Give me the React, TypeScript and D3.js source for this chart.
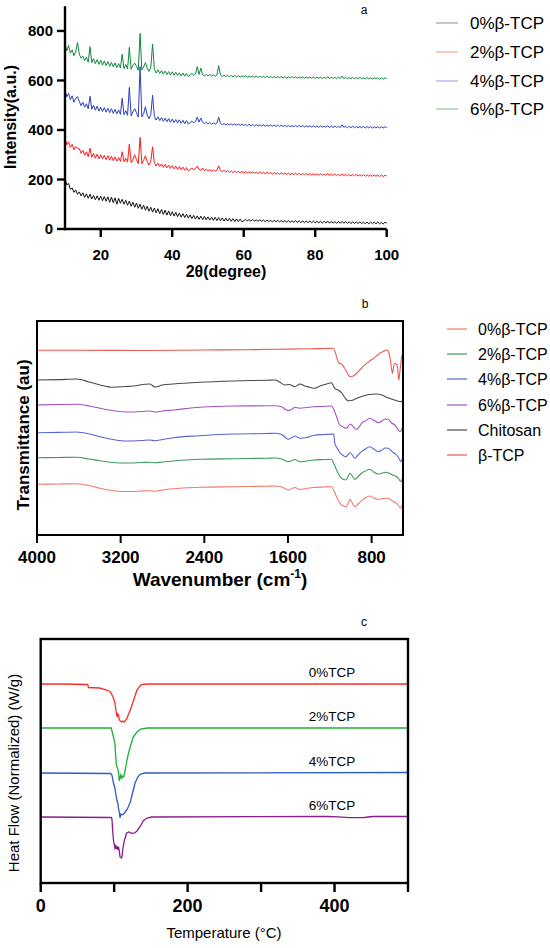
import * as d3 from "d3";

// ---------- panel a : XRD (2θ from 10 to 100, 0.5° step) ----------
const xrdStart = 10;
const xrdStep = 0.5;

const xrd0 = [
  205, 178, 184, 160, 166, 148, 158, 140, 150, 134,
  146, 128, 142, 124, 140, 121, 136, 118, 134, 116,
  133, 114, 131, 112, 130, 108, 129, 106, 126, 100,
  124, 104, 120, 100, 116, 96, 113, 92, 108, 88,
  105, 84, 100, 80, 96, 76, 92, 72, 88, 68,
  85, 65, 82, 62, 79, 59, 76, 56, 73, 54,
  70, 52, 67, 50, 64, 48, 62, 46, 60, 44,
  57, 42, 55, 40, 53, 39, 52, 38, 51, 37,
  49, 36, 48, 35, 47, 34, 46, 33, 45, 32,
  44, 32, 43, 31, 42, 30, 41, 30, 40, 29,
  33, 39, 33, 38, 32, 38, 32, 37, 31, 37,
  31, 36, 30, 36, 30, 35, 29, 35, 29, 35,
  29, 34, 28, 34, 28, 34, 27, 33, 27, 33,
  27, 33, 26, 32, 26, 32, 26, 32, 25, 32,
  25, 31, 25, 31, 24, 31, 24, 32, 24, 30,
  24, 30, 23, 30, 23, 31, 23, 30, 23, 29,
  22, 29, 22, 29, 22, 29, 22, 28, 21, 28,
  21, 28, 21, 28, 21, 28, 21, 27, 20, 27,
  24,
];
const xrd2 = [
  368, 340, 352, 330, 342, 320, 334, 326, 324, 306,
  318, 298, 312, 292, 326, 290, 305, 286, 302, 284,
  300, 283, 298, 280, 296, 278, 294, 276, 291, 274,
  289, 273, 312, 272, 286, 270, 343, 268, 282, 300,
  280, 264, 370, 264, 278, 296, 272, 258, 274, 332,
  268, 254, 266, 252, 263, 249, 261, 247, 258, 245,
  256, 243, 254, 241, 252, 239, 250, 237, 248, 235,
  240, 246, 239, 244, 254, 241, 237, 246, 236, 241,
  235, 240, 234, 239, 233, 238, 255, 236, 232, 237,
  230, 236, 229, 235, 228, 234, 228, 233, 227, 233,
  226, 232, 226, 231, 225, 231, 225, 230, 224, 230,
  224, 229, 223, 229, 223, 228, 222, 228, 222, 227,
  221, 227, 221, 226, 220, 226, 220, 225, 220, 225,
  219, 225, 219, 224, 219, 224, 218, 224, 218, 223,
  218, 223, 217, 223, 217, 222, 217, 224, 216, 222,
  216, 222, 216, 221, 215, 223, 215, 221, 215, 220,
  214, 220, 215, 220, 214, 219, 214, 220, 213, 219,
  213, 219, 213, 218, 213, 218, 212, 218, 212, 217,
  214,
];
const xrd4 = [
  562, 534, 548, 522, 538, 512, 528, 534, 516, 498,
  512, 492, 506, 486, 536, 484, 500, 480, 496, 476,
  492, 475, 490, 472, 488, 470, 486, 467, 483, 465,
  481, 463, 528, 462, 478, 459, 572, 457, 474, 486,
  470, 452, 656, 453, 466, 494, 460, 446, 462, 540,
  455, 440, 453, 438, 450, 435, 448, 433, 446, 431,
  444, 430, 442, 428, 441, 427, 439, 425, 438, 424,
  430, 436, 429, 434, 452, 432, 448, 431, 426, 431,
  424, 430, 423, 429, 423, 428, 452, 427, 421, 426,
  420, 426, 420, 425, 419, 425, 419, 424, 418, 424,
  418, 423, 417, 423, 417, 422, 416, 422, 416, 421,
  416, 421, 415, 421, 415, 420, 415, 420, 414, 420,
  414, 419, 414, 419, 413, 419, 413, 418, 413, 418,
  413, 418, 412, 418, 412, 417, 412, 417, 412, 417,
  411, 417, 411, 416, 411, 416, 411, 417, 410, 416,
  410, 416, 410, 415, 410, 421, 410, 415, 409, 415,
  409, 415, 409, 414, 409, 414, 409, 414, 408, 414,
  408, 414, 408, 413, 408, 413, 408, 413, 408, 413,
  410,
];
const xrd6 = [
  748, 720, 742, 710, 724, 700, 716, 753, 706, 690,
  698, 680, 694, 674, 737, 672, 688, 668, 685, 665,
  682, 662, 679, 660, 676, 657, 673, 655, 671, 652,
  668, 650, 706, 648, 664, 646, 734, 645, 661, 670,
  658, 641, 790, 642, 655, 672, 650, 636, 651, 747,
  645, 630, 643, 628, 640, 626, 638, 624, 636, 622,
  635, 621, 633, 620, 631, 618, 630, 617, 628, 616,
  622, 628, 621, 626, 656, 624, 650, 623, 619, 624,
  618, 624, 618, 623, 617, 622, 660, 622, 616, 621,
  616, 621, 615, 620, 615, 620, 614, 619, 614, 619,
  614, 619, 613, 618, 613, 618, 613, 618, 612, 617,
  612, 617, 612, 617, 612, 616, 611, 616, 611, 616,
  611, 616, 610, 615, 610, 615, 610, 616, 610, 615,
  609, 615, 610, 614, 609, 614, 609, 614, 609, 614,
  608, 614, 609, 613, 608, 613, 608, 615, 608, 613,
  608, 613, 607, 614, 608, 618, 607, 613, 607, 612,
  607, 612, 607, 612, 606, 612, 607, 611, 606, 612,
  606, 611, 606, 611, 606, 611, 605, 611, 605, 610,
  608,
];
const xrdNames = ["0%β-TCP", "2%β-TCP", "4%β-TCP", "6%β-TCP"];
const xrdColors = ["#111111", "#ff1a1a", "#2a3fbf", "#11883c"];
const xrdLegendColors = ["#a0a0a0", "#f5a58c", "#a7aee3", "#8ec79d"];
const xrdXTicks = [20, 40, 60, 80, 100];
const xrdYTicks = [0, 200, 400, 600, 800];

// ---------- panel b : FTIR ([wavenumber, transmittance]) ----------
const ftirTcp = [
  [4000, 184.7], [3600, 184.8], [3000, 184.5], [2400, 185], [2000, 185.3], [1725, 185.7],
  [1400, 186.2], [1250, 186.5], [1168, 186.7], [1140, 180], [1120, 173], [1110, 171.7],
  [1088, 171], [1060, 167], [1040, 163.3], [1015, 159], [1001, 158.3], [976, 159],
  [950, 161], [929, 163.3], [890, 167.5], [849, 171.7], [790, 176], [722, 181.7],
  [680, 184], [652, 185], [638, 183], [626, 178.3], [612, 168], [600, 161.7], [590, 168],
  [578, 171.7], [566, 171], [556, 170], [547, 162], [540, 155], [530, 163], [521, 171.7],
  [510, 180], [500, 176],
];
const ftirChitosan = [
  [4000, 155], [3800, 155.4], [3620, 156], [3500, 153], [3398, 150], [3270, 147.7],
  [3150, 148.5], [3080, 149], [2968, 150.7], [2920, 151], [2872, 148], [2800, 150],
  [2697, 151], [2442, 152.7], [2124, 154], [1800, 154.8], [1725, 155], [1680, 153],
  [1630, 150], [1590, 150.5], [1534, 148.3], [1486, 151], [1440, 149], [1391, 147.7],
  [1343, 146.7], [1295, 149], [1230, 151], [1183, 152.3], [1170, 150], [1152, 146.7],
  [1120, 145], [1088, 142.3], [1060, 138], [1025, 134.3], [995, 134.5], [961, 135.7],
  [920, 137.5], [881, 139], [820, 140.5], [753, 141], [700, 140], [657, 137.7],
  [610, 136], [562, 134.3], [530, 133.5], [514, 133.3], [505, 134.5], [500, 133],
];
const ftir6 = [
  [4000, 130], [3800, 130.5], [3620, 130.7], [3500, 129], [3398, 126.7], [3250, 124],
  [3150, 123], [3000, 123.5], [2920, 124], [2872, 123], [2800, 124], [2697, 125],
  [2442, 127.7], [2124, 129], [1800, 129.2], [1725, 129.3], [1661, 128.3], [1630, 126],
  [1598, 124.3], [1560, 126], [1534, 127.7], [1486, 126.7], [1420, 127.5], [1359, 128.3],
  [1280, 128.5], [1183, 129], [1160, 125], [1135, 118.3], [1104, 110], [1070, 108],
  [1040, 106.7], [1025, 108.5], [1008, 111], [990, 110], [976, 108.3], [944, 105.7],
  [920, 108], [896, 111.7], [860, 114], [817, 116.7], [790, 115.5], [760, 113.5],
  [737, 112.3], [700, 114], [670, 116], [642, 115.7], [610, 112], [578, 110], [550, 106],
  [530, 103.3], [515, 104.5], [505, 108], [500, 104],
];
const ftir4 = [
  [4000, 102.3], [3800, 102.6], [3620, 103], [3500, 101], [3398, 98.3], [3250, 95],
  [3150, 94], [3000, 94.5], [2920, 95], [2872, 94.3], [2800, 95.5], [2697, 97.3],
  [2442, 99.3], [2124, 101], [1800, 101.5], [1725, 101.7], [1661, 100.5], [1630, 98],
  [1598, 95.7], [1560, 97.5], [1534, 99], [1486, 96.7], [1420, 97.5], [1359, 99.5],
  [1250, 100.5], [1162, 101], [1152, 91.7], [1130, 87], [1110, 83.3], [1080, 80],
  [1046, 78.3], [1025, 80.5], [1008, 82.3], [985, 80], [961, 76.7], [930, 80],
  [896, 83.3], [860, 86], [817, 88.3], [780, 86], [737, 83.3], [700, 85], [670, 87],
  [642, 86.7], [600, 83], [562, 80], [540, 77], [521, 73.3], [508, 76], [500, 73],
];
const ftir2 = [
  [4000, 77.3], [3800, 77.5], [3620, 77.7], [3500, 76], [3398, 74.3], [3250, 72.3],
  [3150, 72], [3000, 72.5], [2920, 72.8], [2872, 72.2], [2800, 73], [2697, 74],
  [2442, 75.7], [2124, 76.3], [1800, 76.8], [1725, 77], [1661, 76], [1630, 74.5],
  [1598, 73.3], [1560, 74.5], [1534, 75.5], [1486, 73.3], [1420, 74], [1359, 75],
  [1250, 75.5], [1183, 75.7], [1160, 71], [1135, 65], [1110, 60], [1088, 56.7],
  [1046, 55], [1025, 58.5], [1008, 61.7], [985, 59], [961, 55.7], [930, 58.5],
  [896, 61.7], [860, 64], [817, 65.7], [780, 63], [737, 61], [700, 62], [670, 62.8],
  [642, 62.3], [600, 60], [562, 58.3], [540, 56], [521, 53.3], [508, 56], [500, 52],
];
const ftir0 = [
  [4000, 50.7], [3800, 51], [3620, 51.3], [3500, 49.5], [3398, 46.7], [3250, 44],
  [3150, 43.5], [3000, 44], [2920, 44.3], [2872, 43.8], [2800, 45], [2697, 46.3],
  [2442, 47.7], [2124, 48.3], [1800, 48.8], [1725, 49], [1661, 48], [1630, 46.5],
  [1598, 45], [1560, 46.5], [1534, 47.5], [1486, 45.7], [1420, 46.5], [1359, 47.5],
  [1250, 48], [1183, 48.3], [1160, 44], [1135, 38.3], [1110, 33], [1088, 30],
  [1046, 28.3], [1025, 31.5], [1008, 35.7], [985, 32], [961, 28.3], [930, 31],
  [896, 34.3], [860, 37], [817, 39], [780, 37], [737, 35.7], [700, 36.3], [670, 36.8],
  [642, 36.7], [600, 34], [562, 31.7], [540, 29], [521, 26.7], [508, 30], [500, 25],
];
const ftirNames = ["0%β-TCP", "2%β-TCP", "4%β-TCP", "6%β-TCP", "Chitosan", "β-TCP"];
const ftirColors = ["#f7776b", "#3f9a5e", "#5566d2", "#a552c4", "#4a4a4a", "#ec5a52"];
const ftirXTicks = [4000, 3200, 2400, 1600, 800];

// ---------- panel c : DSC ([temperature, heat flow]) ----------
const dsc0 = [
  [0, 199], [30, 199], [64, 198.5], [65, 195.5], [80, 195], [90, 193], [95, 191],
  [99, 185], [101, 180], [103, 170], [104, 166], [105, 169], [106, 168], [107, 163],
  [110, 161], [112, 162], [114, 161], [117, 164], [122, 173], [127, 184], [131, 193],
  [135, 197], [138, 198.5], [145, 199], [300, 199], [500, 199],
];
const dsc2 = [
  [0, 155], [96, 155], [97, 152], [99, 146], [101, 140], [102, 128], [103, 118],
  [104, 116], [105, 114], [106, 110], [107, 102], [108, 106], [109, 108], [110, 104],
  [111, 107], [113, 106], [115, 113], [118, 125], [121, 134], [126, 146], [131, 151],
  [136, 154], [145, 155], [500, 155],
];
const dsc4 = [
  [0, 110], [95, 109.5], [97, 108], [99, 100], [101, 95], [102, 90], [104, 82],
  [105, 80], [106, 74], [107, 71], [108, 65], [109, 69], [111, 68], [114, 70],
  [118, 74], [122, 81], [125, 90], [128.5, 100], [132, 106], [136, 109], [142, 110],
  [500, 110.5],
];
const dsc6 = [
  [0, 66], [96, 65.5], [97, 64], [98, 52], [99, 43], [101, 35], [102, 37], [103, 34],
  [104, 37], [105, 33], [106, 36], [107, 32], [108, 26], [110, 25], [111, 28],
  [112, 35], [114, 43], [117, 50], [120, 51], [124, 49.7], [128, 50], [131, 52],
  [135, 56], [140, 62.6], [145, 65], [151, 66], [390, 66.5], [405, 66.1], [420, 65.3],
  [440, 65.5], [452, 66.5], [500, 66.5],
];
const dscNames = ["0%TCP", "2%TCP", "4%TCP", "6%TCP"];
const dscColors = ["#ff2b2b", "#1fae35", "#2d5cc4", "#8a1d8e"];
const dscXTicks = [0, 100, 200, 300, 400, 500];
const dscXLabels = [0, 200, 400];

const FONT = "'Liberation Sans', Arial, sans-serif";

function XrdPanel() {
  const x = d3.scaleLinear().domain([10, 100]).range([65, 386.7]);
  const y = d3.scaleLinear().domain([0, 900]).range([229, 6.2]);
  const line = d3
    .line<number>()
    .x((_, i) => x(xrdStart + i * xrdStep))
    .y((d) => y(d));
  const series = [xrd0, xrd2, xrd4, xrd6];
  const legendY = [23, 52, 81, 109];
  return (
    <g fontFamily={FONT}>
      {series.map((s, k) => (
        <path key={k} d={line(s) || ""} fill="none" stroke={xrdColors[k]} strokeWidth={1} />
      ))}
      <line x1={x(10)} x2={x(10)} y1={y(900)} y2={y(0) + 1.2} stroke="#000" strokeWidth={2.4} />
      <line x1={x(10) - 1.2} x2={x(100)} y1={y(0)} y2={y(0)} stroke="#000" strokeWidth={2.4} />
      {xrdYTicks.map((t) => (
        <g key={t}>
          <line x1={x(10) - 8} x2={x(10)} y1={y(t)} y2={y(t)} stroke="#000" strokeWidth={2.4} />
          <text x={x(10) - 12} y={y(t)} dy="0.36em" textAnchor="end" fontSize={15} fontWeight="bold">
            {t}
          </text>
        </g>
      ))}
      {xrdXTicks.map((t) => (
        <g key={t}>
          <line x1={x(t)} x2={x(t)} y1={y(0)} y2={y(0) + 8} stroke="#000" strokeWidth={2.4} />
          <text x={x(t)} y={260} textAnchor="middle" fontSize={15} fontWeight="bold">
            {t}
          </text>
        </g>
      ))}
      <text x={226} y={277} textAnchor="middle" fontSize={16} fontWeight="bold">
        2θ(degree)
      </text>
      <text
        transform="translate(16,117) rotate(-90)"
        textAnchor="middle"
        fontSize={16}
        fontWeight="bold"
      >
        Intensity(a.u.)
      </text>
      <text x={364} y={14} textAnchor="middle" fontSize={12}>
        a
      </text>
      {xrdNames.map((n, k) => (
        <g key={n}>
          <line x1={436} x2={458} y1={legendY[k]} y2={legendY[k]} stroke={xrdLegendColors[k]} strokeWidth={1.2} />
          <text x={470} y={legendY[k]} dy="0.36em" fontSize={17}>
            {n}
          </text>
        </g>
      ))}
    </g>
  );
}

function FtirPanel() {
  const x = d3.scaleLinear().domain([4000, 500]).range([37, 403]);
  const y = d3.scaleLinear().domain([0, 214]).range([535, 321]);
  const path = d3
    .line<number[]>()
    .x((d) => x(d[0]))
    .y((d) => y(d[1]))
    .curve(d3.curveMonotoneX);
  const series = [ftir0, ftir2, ftir4, ftir6, ftirChitosan, ftirTcp];
  const legendY = [329, 354, 379, 405, 430, 455];
  return (
    <g fontFamily={FONT}>
      {series.map((s, k) => (
        <path key={k} d={path(s) || ""} fill="none" stroke={ftirColors[k]} strokeWidth={1.1} />
      ))}
      <rect x={37} y={321} width={366} height={214} fill="none" stroke="#000" strokeWidth={2} />
      {ftirXTicks.map((t) => (
        <g key={t}>
          <line x1={x(t)} x2={x(t)} y1={535} y2={543} stroke="#000" strokeWidth={2} />
          <text x={x(t)} y={563} textAnchor="middle" fontSize={17} fontWeight="bold">
            {t}
          </text>
        </g>
      ))}
      <text x={220} y={586} textAnchor="middle" fontSize={19} fontWeight="bold">
        Wavenumber (cm
        <tspan fontSize={12} dy={-8}>
          -1
        </tspan>
        <tspan dy={8}>)</tspan>
      </text>
      <text
        transform="translate(29,435) rotate(-90)"
        textAnchor="middle"
        fontSize={17}
        fontWeight="bold"
      >
        Transmittance (au)
      </text>
      <text x={365} y={308} textAnchor="middle" fontSize={12}>
        b
      </text>
      {ftirNames.map((n, k) => (
        <g key={n}>
          <line x1={447} x2={467} y1={legendY[k]} y2={legendY[k]} stroke={ftirColors[k]} strokeWidth={1.2} />
          <text x={478} y={legendY[k]} dy="0.36em" fontSize={16}>
            {n}
          </text>
        </g>
      ))}
    </g>
  );
}

function DscPanel() {
  const x = d3.scaleLinear().domain([0, 500]).range([40.7, 408]);
  const y = d3.scaleLinear().domain([0, 244]).range([883, 639]);
  const path = d3
    .line<number[]>()
    .x((d) => x(d[0]))
    .y((d) => y(d[1]));
  const series = [dsc0, dsc2, dsc4, dsc6];
  const labelY = [677, 721, 766, 810];
  return (
    <g fontFamily={FONT}>
      {series.map((s, k) => (
        <path key={k} d={path(s) || ""} fill="none" stroke={dscColors[k]} strokeWidth={1.3} />
      ))}
      <rect x={40.7} y={639} width={367.3} height={244} fill="none" stroke="#000" strokeWidth={2.4} />
      {dscXTicks.map((t) => (
        <line key={t} x1={x(t)} x2={x(t)} y1={883} y2={892} stroke="#000" strokeWidth={2.4} />
      ))}
      {dscXLabels.map((t) => (
        <text key={t} x={x(t)} y={912} textAnchor="middle" fontSize={18} fontWeight="bold">
          {t}
        </text>
      ))}
      <text x={224} y={938} textAnchor="middle" fontSize={15}>
        Temperature (°C)
      </text>
      <text transform="translate(19,773) rotate(-90)" textAnchor="middle" fontSize={15}>
        Heat Flow (Normalized) (W/g)
      </text>
      <text x={364} y={626} textAnchor="middle" fontSize={12}>
        c
      </text>
      {dscNames.map((n, k) => (
        <text key={n} x={332} y={labelY[k]} textAnchor="middle" fontSize={13.5}>
          {n}
        </text>
      ))}
    </g>
  );
}

export default function App() {
  return (
    <svg
      width={550}
      height={948}
      viewBox="0 0 550 948"
      style={{ position: "absolute", left: 0, top: 0, background: "#fff" }}
    >
      <rect width={550} height={948} fill="#fff" />
      <XrdPanel />
      <FtirPanel />
      <DscPanel />
    </svg>
  );
}
